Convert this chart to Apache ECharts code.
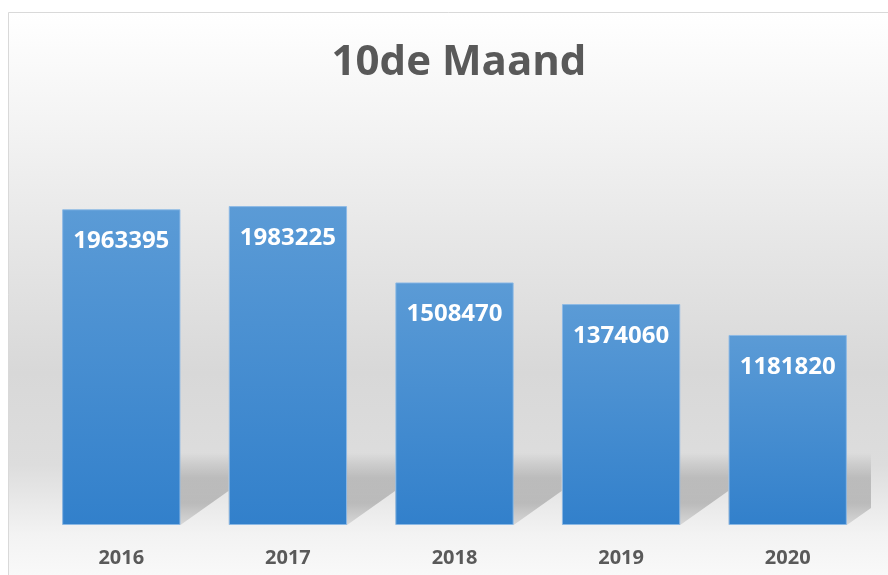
<!DOCTYPE html>
<html>
<head>
<meta charset="utf-8">
<style>
  html, body { margin: 0; padding: 0; background: #ffffff; }
  #chart { width: 888px; height: 575px; }
</style>
<script src="https://cdn.jsdelivr.net/npm/echarts@6/dist/echarts.min.js"></script>
</head>
<body>
<div id="chart"></div>
<script>
  // data
  const years = ['2016', '2017', '2018', '2019', '2020']
  const values = [1963395, 1983225, 1508470, 1374060, 1181820]
  const titleText = '10de Maand'

  const myChart = echarts.init(document.getElementById('chart'))

  // shadow behind the foot of each bar
  function renderShadow(params, api) {
    const idx = api.value(0)
    const base = api.coord([idx, 0])
    const size = api.size([1, 0])
    const bw = size[0] * 0.71
    const x0 = base[0] - bw / 2
    const x1 = base[0] + bw / 2
    const y0 = base[1]
    return {
      type: 'polygon',
      shape: {
        points: [[x0, y0 - 72], [x1 + 48, y0 - 72], [x1 + 48, y0 - 34], [x1, y0], [x0, y0]]
      },
      style: {
        fill: new echarts.graphic.LinearGradient(0, 0, 0, 1, [
          { offset: 0, color: 'rgba(0,0,0,0)' },
          { offset: 0.35, color: 'rgba(0,0,0,0.17)' },
          { offset: 0.7, color: 'rgba(0,0,0,0.2)' },
          { offset: 1, color: 'rgba(0,0,0,0.1)' }
        ])
      }
    }
  }

  const option = {
    animation: false,
    graphic: [
      {
        type: 'rect',
        z: -10,
        silent: true,
        shape: { x: 8.5, y: 12.5, width: 900, height: 580 },
        style: {
          stroke: '#d9d9d9',
          lineWidth: 1,
          fill: new echarts.graphic.LinearGradient(0, 0, 0, 1, [
            { offset: 0, color: '#ffffff' },
            { offset: 0.2, color: '#f3f3f3' },
            { offset: 0.62, color: '#d8d8d8' },
            { offset: 0.78, color: '#dddddd' },
            { offset: 0.9, color: '#f3f3f3' },
            { offset: 1, color: '#fbfbfb' }
          ])
        }
      }
    ],
    title: {
      text: titleText,
      left: 454,
      top: 37,
      textAlign: 'center',
      textStyle: {
        fontFamily: 'Open Sans',
        fontWeight: 'bold',
        fontSize: 42,
        color: '#595959'
      }
    },
    grid: {
      left: 38,
      right: 17,
      top: 123,
      bottom: 50
    },
    xAxis: {
      type: 'category',
      data: years,
      axisLine: { show: false },
      axisTick: { show: false },
      axisLabel: {
        margin: 23,
        fontFamily: 'Open Sans',
        fontWeight: 'bold',
        fontSize: 20,
        color: '#595959'
      }
    },
    yAxis: {
      type: 'value',
      min: 0,
      max: 2500000,
      show: false,
      splitLine: { show: false }
    },
    series: [
      {
        type: 'custom',
        renderItem: renderShadow,
        clip: true,
        silent: true,
        z: 1,
        data: years.map(function (y, i) { return [i, values[i]] })
      },
      {
        type: 'bar',
        data: values,
        barCategoryGap: '29%',
        z: 2,
        itemStyle: {
          color: new echarts.graphic.LinearGradient(0, 0, 0, 1, [
            { offset: 0, color: '#5b9bd6' },
            { offset: 1, color: '#3280cb' }
          ]),
          borderColor: 'rgba(140,185,230,0.9)',
          borderWidth: 1
        },
        label: {
          show: true,
          position: 'insideTop',
          distance: 20,
          fontFamily: 'Open Sans',
          fontWeight: 'bold',
          fontSize: 24,
          color: '#ffffff'
        }
      }
    ]
  }
  myChart.setOption(option)
</script>
</body>
</html>
